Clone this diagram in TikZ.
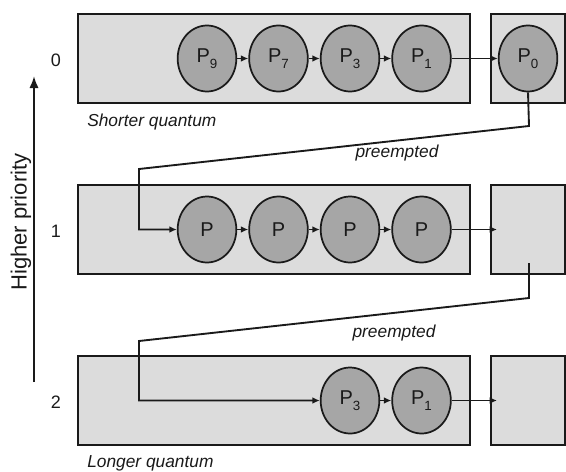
\documentclass[tikz,border=0pt]{standalone}
\usepackage{fontspec}
\setmainfont{Liberation Sans}
\usetikzlibrary{arrows.meta,shapes.geometric}
\definecolor{boxfill}{HTML}{DCDCDC}
\definecolor{procfill}{HTML}{A6A6A6}
\definecolor{ink}{HTML}{1A1A1A}
\newcommand{\proc}[1]{P\raisebox{-0.55ex}{\fontsize{10pt}{10pt}\selectfont #1}}
\begin{document}
\begin{tikzpicture}[x=0.75pt,y=-0.75pt,
  qbox/.style={draw=ink, fill=boxfill, line width=1.7pt, minimum width=294pt, minimum height=66.75pt, inner sep=0pt},
  rbox/.style={draw=ink, fill=boxfill, line width=1.7pt, minimum width=55.5pt, minimum height=66.75pt, inner sep=0pt},
  proc/.style={ellipse, draw=ink, fill=procfill, line width=1.3pt, minimum width=44pt, minimum height=49.5pt, inner sep=0pt, text=ink, font=\fontsize{15pt}{16pt}\selectfont},
  conn/.style={draw=ink, line width=1.4pt, -{Latex[length=5.5pt,width=5pt]}},
  lbl/.style={text=ink, font=\fontsize{13.5pt}{14pt}\selectfont, inner sep=0pt},
  ilbl/.style={text=ink, font=\fontsize{13pt}{14pt}\selectfont\itshape, inner sep=0pt}
]
\useasboundingbox (0,0) rectangle (566,471);
% queues
\node[qbox] (q0) at (274,58.5) {};
\node[rbox] (r0) at (528,58.5) {};
\node[qbox] (q1) at (274,229.5) {};
\node[rbox] (r1) at (528,229.5) {};
\node[qbox] (q2) at (274,400.5) {};
\node[rbox] (r2) at (528,400.5) {};
% row 0
\node[proc] (a9) at (207,58.5) {\proc{9}};
\node[proc] (a7) at (278.5,58.5) {\proc{7}};
\node[proc] (a3) at (350,58.5) {\proc{3}};
\node[proc] (a1) at (421.5,58.5) {\proc{1}};
\node[proc] (a0) at (528,58.5) {\proc{0}};
\draw[conn] (a9) -- (a7);
\draw[conn] (a7) -- (a3);
\draw[conn] (a3) -- (a1);
\draw[conn] (a1) -- (a0);
% row 1
\node[proc] (b1) at (207,229.5) {P};
\node[proc] (b2) at (278.5,229.5) {P};
\node[proc] (b3) at (350,229.5) {P};
\node[proc] (b4) at (421.5,229.5) {P};
\coordinate (e1) at (497,229.5);
\draw[conn] (b1) -- (b2);
\draw[conn] (b2) -- (b3);
\draw[conn] (b3) -- (b4);
\draw[conn] (b4) -- (e1);
% row 2
\node[proc] (c3) at (350,400.5) {\proc{3}};
\node[proc] (c1) at (421.5,400.5) {\proc{1}};
\coordinate (e2) at (497,400.5);
\draw[conn] (c3) -- (c1);
\draw[conn] (c1) -- (e2);
% preempted connectors
\coordinate (k1) at (529,126);
\coordinate (k2) at (139,169);
\coordinate (k3) at (139,229.5);
\draw[conn] (a0.south) -- (k1) -- (k2) -- (k3) -- (b1);
\coordinate (m0) at (529,263);
\coordinate (m1) at (529,298);
\coordinate (m2) at (139,341);
\coordinate (m3) at (139,400.5);
\draw[conn] (m0) -- (m1) -- (m2) -- (m3) -- (c3);
% labels
\node[ilbl] (pre1) at (397,153) {preempted};
\node[ilbl] (pre2) at (394,333) {preempted};
\node[ilbl, anchor=west] (sq) at (87,122) {Shorter quantum};
\node[ilbl, anchor=west] (lq) at (87,463) {Longer quantum};
\node[lbl] (n0) at (56,60) {0};
\node[lbl] (n1) at (56,231) {1};
\node[lbl] (n2) at (56,402) {2};
\node[lbl, rotate=90, font=\fontsize{16.5pt}{17pt}\selectfont] (hp) at (21,222) {Higher priority};
\coordinate (hb) at (34,382);
\coordinate (ht) at (34,76);
\draw[draw=ink, line width=1.6pt, -{Latex[length=9pt,width=7pt]}] (hb) -- (ht);
\end{tikzpicture}
\end{document}
